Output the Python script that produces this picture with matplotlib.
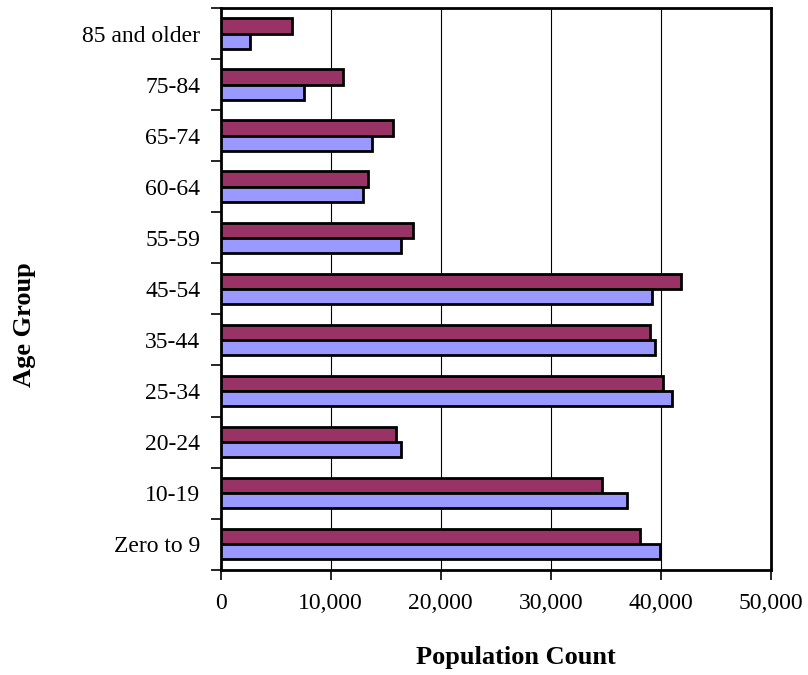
import numpy as np
import matplotlib
matplotlib.use("Agg")
import matplotlib.pyplot as plt
from matplotlib.ticker import FuncFormatter

age_groups = ["Zero to 9", "10-19", "20-24", "25-34", "35-44", "45-54",
              "55-59", "60-64", "65-74", "75-84", "85 and older"]
series_top = [38100, 34650, 15900, 40200, 39000, 41800, 17500, 13400, 15700, 11100, 6500]
series_bottom = [39950, 36950, 16400, 41050, 39500, 39200, 16400, 12900, 13800, 7600, 2700]
x_ticks = [0, 10000, 20000, 30000, 40000, 50000]

plt.rcParams['font.family'] = ['Liberation Serif', 'DejaVu Serif']

fig = plt.figure(figsize=(8.08, 6.75), dpi=100)
ax = fig.add_axes([0.273, 0.156, 0.681, 0.832])

y = np.arange(len(age_groups))
h = 0.3
ax.barh(y + h / 2, series_top, height=h, color="#993366",
        edgecolor="black", linewidth=2, zorder=3)
ax.barh(y - h / 2, series_bottom, height=h, color="#9999ff",
        edgecolor="black", linewidth=2, zorder=3)

ax.set_xlim(0, 50000)
ax.set_ylim(-0.5, len(age_groups) - 0.5)
ax.set_xticks(x_ticks)
ax.xaxis.set_major_formatter(FuncFormatter(lambda v, p: f"{int(v):,}"))
ax.grid(axis="x", color="black", linewidth=0.8, zorder=0)

# labels at category centres, tick marks on the boundaries
ax.set_yticks(y)
ax.set_yticklabels(age_groups)
ax.set_yticks(np.arange(-0.5, len(age_groups)), minor=True)
ax.tick_params(axis="y", which="major", length=0, pad=14.5, labelsize=17)
ax.tick_params(axis="y", which="minor", length=7, width=1.2, direction="out")
ax.tick_params(axis="x", length=7, width=1.2, direction="out", pad=10, labelsize=17)

for s in ax.spines.values():
    s.set_linewidth(2)

ax.set_xlabel("Population Count", fontsize=19, fontweight="bold", va="center")
ax.xaxis.set_label_coords(0.537, -0.157)
ax.set_ylabel("Age Group", fontsize=19, fontweight="bold", va="center")
ax.yaxis.set_label_coords(-0.357, 0.436)

fig.savefig("out.png", dpi=100)
